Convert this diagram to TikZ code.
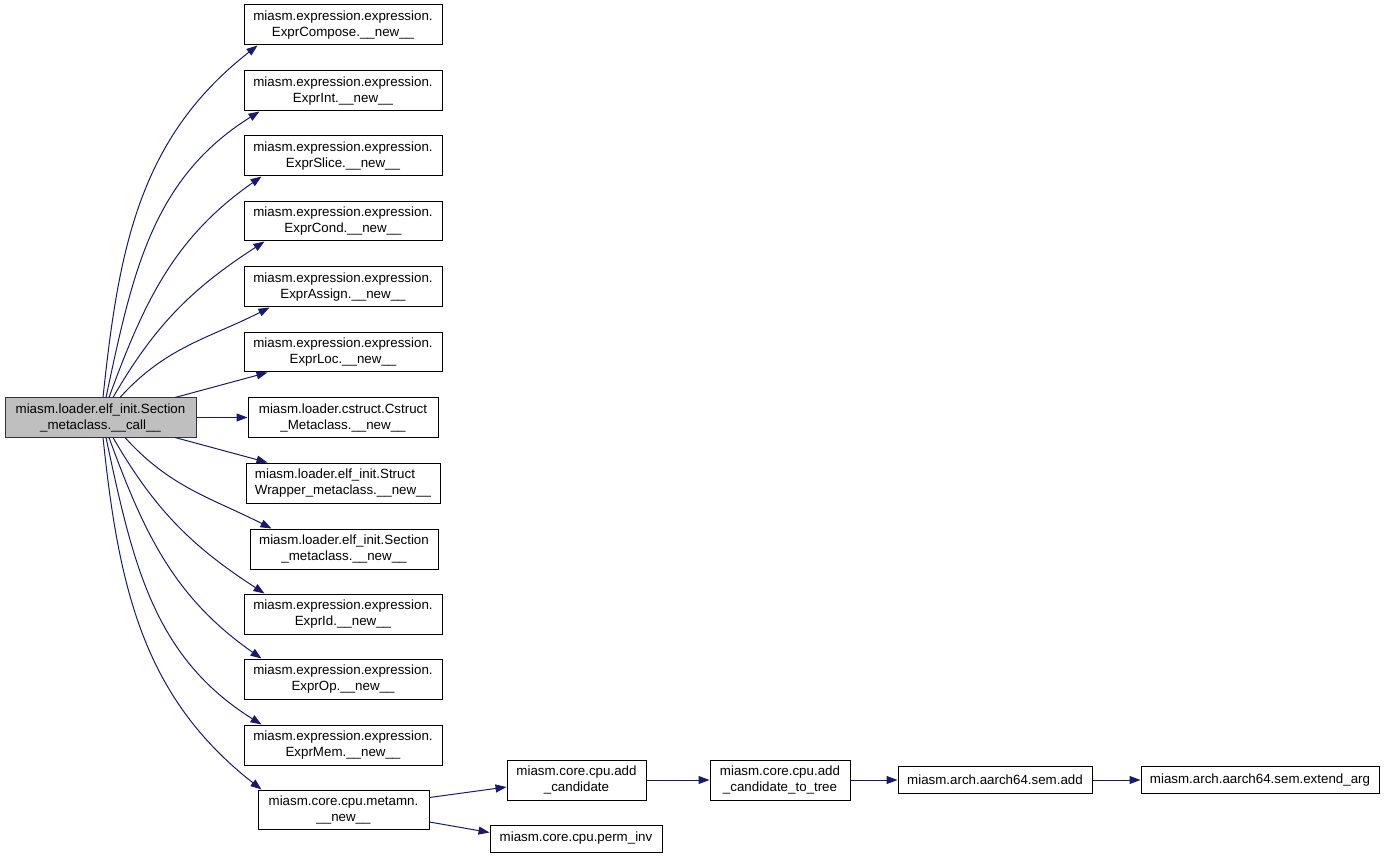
\documentclass[tikz,border=0pt]{standalone}
\usepackage{fontspec}
\setmainfont{Liberation Sans}
\usetikzlibrary{arrows.meta}
\definecolor{edgec}{RGB}{25,25,112}
\tikzset{
  box/.style={draw=black, line width=1pt, inner sep=0pt, align=center,
    font=\fontsize{13.33}{16}\selectfont},
  mainbox/.style={box, draw=black!80, fill=black!25},
  edge/.style={draw=edgec, line width=1pt, -{Triangle[length=11pt,width=8pt]}},
}
\begin{document}
\begin{tikzpicture}[x=1pt,y=1pt]
\useasboundingbox (0,0) rectangle (1384,-858);
% main
\node[mainbox, minimum width=191pt, minimum height=39pt] (main) at (100.5,-417.5) {miasm.loader.elf\_init.Section\\\_metaclass.\_\_call\_\_};
% column
\node[box, minimum width=198pt, minimum height=40pt] (c1) at (343,-25) {miasm.expression.expression.\\ExprCompose.\_\_new\_\_};
\node[box, minimum width=198pt, minimum height=40pt] (c2) at (343,-91) {miasm.expression.expression.\\ExprInt.\_\_new\_\_};
\node[box, minimum width=198pt, minimum height=40pt] (c3) at (343,-156) {miasm.expression.expression.\\ExprSlice.\_\_new\_\_};
\node[box, minimum width=198pt, minimum height=39pt] (c4) at (343,-221.5) {miasm.expression.expression.\\ExprCond.\_\_new\_\_};
\node[box, minimum width=198pt, minimum height=40pt] (c5) at (343,-287) {miasm.expression.expression.\\ExprAssign.\_\_new\_\_};
\node[box, minimum width=198pt, minimum height=39pt] (c6) at (343,-352.5) {miasm.expression.expression.\\ExprLoc.\_\_new\_\_};
\node[box, minimum width=190pt, minimum height=39pt] (c7) at (343,-417.5) {miasm.loader.cstruct.Cstruct\\\_Metaclass.\_\_new\_\_};
\node[box, minimum width=194pt, minimum height=40pt, align=left] (c8) at (343,-483) {miasm.loader.elf\_init.Struct\\Wrapper\_metaclass.\_\_new\_\_};
\node[box, minimum width=188pt, minimum height=40pt] (c9) at (344,-549) {miasm.loader.elf\_init.Section\\\_metaclass.\_\_new\_\_};
\node[box, minimum width=198pt, minimum height=40pt] (c10) at (343,-614) {miasm.expression.expression.\\ExprId.\_\_new\_\_};
\node[box, minimum width=198pt, minimum height=40pt] (c11) at (343,-679) {miasm.expression.expression.\\ExprOp.\_\_new\_\_};
\node[box, minimum width=198pt, minimum height=40pt] (c12) at (343,-745) {miasm.expression.expression.\\ExprMem.\_\_new\_\_};
\node[box, minimum width=171pt, minimum height=39pt] (c13) at (343.5,-809.5) {miasm.core.cpu.metamn.\\\_\_new\_\_};
% right chain
\node[box, minimum width=139pt, minimum height=40pt] (ac) at (576.5,-780) {miasm.core.cpu.add\\\_candidate};
\node[box, minimum width=172pt, minimum height=27pt] (pi) at (576,-838.5) {miasm.core.cpu.perm\_inv};
\node[box, minimum width=140pt, minimum height=40pt] (act) at (780,-780) {miasm.core.cpu.add\\\_candidate\_to\_tree};
\node[box, minimum width=194pt, minimum height=27pt] (sa) at (995,-780) {miasm.arch.aarch64.sem.add};
\node[box, minimum width=238pt, minimum height=27pt] (ea) at (1260,-780) {miasm.arch.aarch64.sem.extend\_arg};
% edges
\draw[edge] ([xshift=2.5pt]main.north) to[out=84,in=218] ([xshift=14pt]c1.south west);
\draw[edge] ([xshift=5.5pt]main.north) to[out=78,in=212] ([xshift=16pt]c2.south west);
\draw[edge] ([xshift=8.5pt]main.north) to[out=70,in=215] ([xshift=18pt]c3.south west);
\draw[edge] ([xshift=12.5pt]main.north) to[out=60,in=213] ([xshift=21pt]c4.south west);
\draw[edge] ([xshift=19.5pt]main.north) to[out=48,in=207] ([xshift=26pt]c5.south west);
\draw[edge] ([xshift=74.5pt]main.north) -- ([xshift=24pt]c6.south west);
\draw[edge] (main.east) -- (c7.west);
\draw[edge] ([xshift=74.5pt]main.south) -- ([xshift=22pt]c8.north west);
\draw[edge] ([xshift=24.5pt]main.south) to[out=-48,in=153] ([xshift=22pt]c9.north west);
\draw[edge] ([xshift=12.5pt]main.south) to[out=-60,in=147] ([xshift=21pt]c10.north west);
\draw[edge] ([xshift=8.5pt]main.south) to[out=-70,in=145] ([xshift=18pt]c11.north west);
\draw[edge] ([xshift=5.5pt]main.south) to[out=-78,in=148] ([xshift=18pt]c12.north west);
\draw[edge] ([xshift=2.5pt]main.south) to[out=-84,in=142] ([xshift=4pt]c13.north west);
\draw[edge] ([yshift=12pt]c13.east) -- ([yshift=-7pt]ac.west);
\draw[edge] ([yshift=-12.5pt]c13.east) -- ([yshift=6pt]pi.west);
\draw[edge] (ac.east) -- (act.west);
\draw[edge] (act.east) -- (sa.west);
\draw[edge] (sa.east) -- (ea.west);
\end{tikzpicture}
\end{document}
